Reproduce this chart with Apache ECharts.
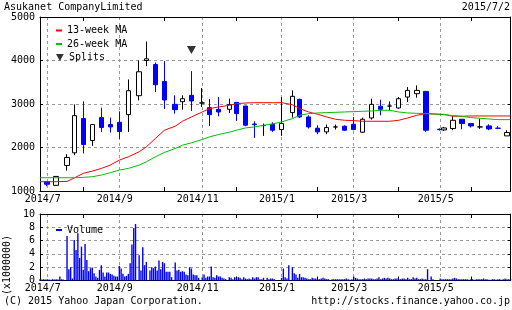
<!DOCTYPE html>
<html><head><meta charset="utf-8">
<script src="https://cdn.jsdelivr.net/npm/echarts@6/dist/echarts.min.js"></script>
<style>html,body{margin:0;padding:0;background:#fff}#c{width:512px;height:310px}</style>
</head><body><div id="c"></div>
<script>
const FONT = '"DejaVu Sans Mono", "Liberation Mono", monospace';

// ---- axis / calendar ----
const startDate = '2014-07-01';
const endDate = '2015-07-01';
const firstWeekMonday = '2014-07-07';
const holidays = ['2014-07-21','2014-09-15','2014-09-23','2014-10-13','2014-11-03','2014-11-24',
  '2014-12-23','2014-12-31','2015-01-01','2015-01-02','2015-01-12','2015-02-11',
  '2015-04-29','2015-05-04','2015-05-05','2015-05-06'];
const monthTickDates = ['2014-07-07','2014-08-04','2014-09-01','2014-10-06','2014-11-04','2014-12-01',
  '2015-01-05','2015-02-02','2015-03-02','2015-04-06','2015-05-07','2015-06-01'];
const monthTickLabels = ['2014/7','','2014/9','','2014/11','','2015/1','','2015/3','','2015/5',''];
const priceTicks = [1000, 5000, 1000];   // min, max, step
const volumeTicks = [0, 10, 2];

// ---- weekly candles (52 weeks from 2014-07-07) ----
const candleOpen  = [1210,1130,1588,1878,2664,2160,2687,2527,2580,2756,3191,4000,3909,3519,2992,3053,3199,3023,2916,2878,2878,3038,2954,2540,2504,2534,2412,2802,3107,2702,2443,2359,2473,2489,2534,2351,2679,2947,2954,2908,3160,3237,3290,2420,2405,2435,2649,2550,2473,2496,2445,2267];
const candleClose = [1155,1335,1771,2733,2069,2527,2458,2473,2367,3305,3741,4038,3443,3092,2870,3122,3069,3023,2756,2817,2985,2779,2512,2525,2504,2397,2550,3176,2702,2473,2359,2458,2473,2397,2412,2649,2992,2878,2954,3122,3313,3313,2397,2410,2450,2626,2550,2496,2473,2427,2440,2344];
const candleLow   = [1110,1125,1466,1824,1863,2038,2359,2344,2199,2359,3084,3870,3275,2886,2779,2870,2840,2931,2496,2718,2794,2611,2489,2221,2267,2359,2267,2687,2679,2435,2305,2305,2412,2381,2397,2336,2641,2740,2855,2893,3046,3145,2359,2390,2381,2397,2420,2458,2427,2397,2440,2267];
const candleHigh  = [1230,1340,1847,2992,3061,2540,2916,2687,2832,3565,4000,4435,3954,3985,3199,3199,3756,3367,3115,3160,3122,3038,2954,2603,2550,2580,3160,3313,3122,2740,2511,2527,2527,2511,2702,2687,3122,3099,3061,3160,3389,3428,3290,2440,2473,2718,2649,2565,2664,2534,2490,2397];

// ---- moving averages, one value per week ----
const ma13 = [1214,1214,1220,1300,1405,1458,1519,1595,1710,1786,1901,2015,2206,2397,2489,2603,2702,2817,2893,2931,2970,3008,3023,3030,3030,3030,3030,2985,2893,2817,2763,2702,2649,2626,2618,2603,2603,2603,2603,2626,2679,2740,2779,2763,2763,2718,2718,2725,2725,2725,2725,2725];
const ma26 = [1305,1305,1305,1305,1313,1328,1366,1420,1481,1519,1595,1672,1786,1886,1977,2053,2107,2183,2244,2298,2351,2397,2450,2473,2511,2542,2588,2664,2740,2779,2794,2802,2809,2817,2825,2832,2840,2855,2855,2817,2794,2786,2779,2763,2756,2733,2718,2687,2672,2656,2641,2641];

// ---- split ----
const splitWeeks = [16];
const splitMarkerPrice = [4240];

// ---- daily volume (x1,000,000), one per trading day from 2014-07-01 ----
const volume = [
  0.2,0.15,0.2,0.15,
  0.2,0.15,0.1,0.2,0.15,
  0.2,0.15,0.6,0.2,0.15,
  6.7,1.7,2.0,0.3,
  6.1,4.6,7.1,3.4,5.1,
  1.6,5.5,3.1,1.4,1.85,
  1.95,1.1,0.6,0.4,1.6,
  2.3,1.2,0.6,1.2,1.2,
  1.0,0.9,0.7,0.6,0.6,
  2.2,1.8,1.0,0.6,0.7,
  1.0,2.6,5.4,7.9,8.5,
  3.8,1.5,5.0,2.3,
  2.8,1.5,2.0,1.85,
  2.1,1.5,3.0,1.7,2.8,
  2.6,1.3,1.3,1.3,0.5,
  2.7,1.5,1.6,1.3,
  1.4,1.3,0.9,0.8,2.0,
  1.8,0.9,0.8,0.8,0.4,
  0.5,0.9,0.4,0.6,
  0.6,2.1,0.5,0.4,0.8,
  0.6,0.6,0.4,0.3,0.2,
  0.5,0.4,0.2,0.5,
  0.3,0.5,0.4,0.2,0.5,
  0.3,0.2,0.3,0.2,0.5,
  0.3,0.5,0.5,0.2,0.2,
  0.4,0.4,0.2,0.3,
  0.3,0.2,
  0.4,1.8,0.5,0.3,2.3,
  2.0,1.1,0.9,0.4,
  1.0,0.5,0.5,0.4,0.3,
  0.2,0.2,0.4,0.3,0.3,
  0.2,0.2,0.3,0.4,0.3,
  0.2,0.2,0.2,0.2,
  0.2,0.2,0.2,0.2,0.2,
  0.2,0.3,0.2,0.1,0.2,
  0.6,0.4,0.3,0.2,0.2,
  0.2,0.3,0.2,0.3,0.3,
  0.3,0.2,0.2,0.3,0.5,
  0.2,0.3,0.4,0.3,0.4,
  0.3,0.2,0.2,0.3,0.3,
  0.2,0.2,0.3,0.3,0.2,
  0.4,0.2,0.2,0.5,0.3,
  0.4,0.2,0.2,0.3,0.2,
  0.2,1.7,0.6,0.2,
  0.3,0.2,
  0.2,0.2,0.2,0.2,0.2,
  0.3,0.4,0.3,0.2,0.2,
  0.2,0.2,0.2,0.2,0.1,
  0.2,0.2,0.1,0.2,0.2,
  0.2,0.2,0.3,0.2,0.2,
  0.1,0.1,0.2,0.2,0.1,
  0.2,0.2,0.1,0.2,0.3,
  0.2,0.2,0.2
];

// ================= build =================
function fmt(d){ return d.toISOString().slice(0,10); }
const days = [];
for (let d = new Date(startDate + 'T00:00:00Z'); fmt(d) <= endDate; d.setUTCDate(d.getUTCDate() + 1)) {
  const wd = d.getUTCDay();
  if (wd > 0 && wd < 6) days.push(fmt(d));
}
const hol = new Set(holidays);
const dayIdx = {}; days.forEach((d, i) => dayIdx[d] = i);

// first trading day of each week
const weekSlot = [];
{
  const m0 = new Date(firstWeekMonday + 'T00:00:00Z');
  for (let i = 0; i < candleOpen.length; i++) {
    let slot = null;
    for (let j = 0; j < 5; j++) {
      const d = new Date(m0.getTime() + (i * 7 + j) * 86400000);
      const s = fmt(d);
      if (!hol.has(s) && dayIdx[s] != null) { slot = dayIdx[s]; break; }
    }
    weekSlot.push(slot);
  }
}
const candleData = candleOpen.map((o, i) => [weekSlot[i], o, candleClose[i], candleLow[i], candleHigh[i]]);
function maLine(arr) {
  const out = [[0, arr[0]]];
  arr.forEach((v, i) => out.push([weekSlot[i], v]));
  out.push([days.length - 1, arr[arr.length - 1]]);
  return out;
}
const splitData = splitWeeks.map((w, i) => [weekSlot[w], splitMarkerPrice[i]]);

const volData = days.map(() => '-');
{
  let j = 0;
  days.forEach((d, i) => { if (!hol.has(d) && j < volume.length) volData[i] = volume[j++]; });
}

const labelMap = new Map(); const tickSet = new Set();
monthTickDates.forEach((d, i) => {
  const k = dayIdx[d];
  if (monthTickLabels[i]) labelMap.set(k, monthTickLabels[i]); else tickSet.add(k);
});

const txt = { fontFamily: FONT, fontSize: 10, color: '#000' };
const dash = { color: '#999', type: [3, 3], width: 1 };

function xAxisPair(gi) {
  return [{
    type: 'category', gridIndex: gi, data: days, boundaryGap: false, position: 'bottom',
    axisLine: { show: true, onZero: false, lineStyle: { color: '#000', width: 1 } },
    axisTick: { show: true, inside: true, length: 4, interval: (i) => tickSet.has(i), lineStyle: { color: '#000' } },
    axisLabel: { show: true, interval: (i) => labelMap.has(i), formatter: (v, i) => labelMap.get(i) || '',
      ...txt, margin: 3, padding: [0, 9, 0, 0] },
    splitLine: { show: true, interval: (i) => labelMap.has(i), lineStyle: dash }
  }, {
    type: 'category', gridIndex: gi, data: days, boundaryGap: false, position: 'top',
    axisLine: { show: true, onZero: false, lineStyle: { color: '#000', width: 1 } },
    axisTick: { show: true, inside: true, length: 4, interval: (i) => tickSet.has(i), lineStyle: { color: '#000' } },
    axisLabel: { show: false }, splitLine: { show: false }
  }];
}
function yAxisPair(gi, t) {
  return [{
    type: 'value', gridIndex: gi, min: t[0], max: t[1], interval: t[2], position: 'left',
    axisLine: { show: true, lineStyle: { color: '#000' } },
    axisTick: { show: true, inside: true, length: 3, lineStyle: { color: '#000' } },
    axisLabel: { ...txt, margin: 5, formatter: (v) => String(v) },
    splitLine: { show: true, lineStyle: dash }
  }, {
    type: 'value', gridIndex: gi, min: t[0], max: t[1], interval: t[2], position: 'right',
    axisLine: { show: true, lineStyle: { color: '#000' } },
    axisTick: { show: true, inside: true, length: 3, lineStyle: { color: '#000' } },
    axisLabel: { show: false }, splitLine: { show: false }
  }];
}

const chart = echarts.init(document.getElementById('c'), null, { renderer: 'canvas' });
chart.setOption({
  animation: false,
  backgroundColor: '#fff',
  grid: [
    { left: 40, top: 17, width: 470.5, height: 174 },
    { left: 40, top: 214, width: 470.5, height: 66.5 }
  ],
  xAxis: [...xAxisPair(0), ...xAxisPair(1)],
  yAxis: [...yAxisPair(0, priceTicks), ...yAxisPair(1, volumeTicks)],
  legend: [
    { data: ['13-week MA', '26-week MA'], left: 51, top: 19.5, orient: 'vertical', icon: 'rect',
      itemWidth: 6, itemHeight: 2, itemGap: 1.5, textStyle: { ...txt, lineHeight: 12 }, selectedMode: false },
    { data: ['Splits'], left: 51, top: 46.5, orient: 'vertical', icon: 'path://M0,0L10,0L5,9Z',
      itemWidth: 8, itemHeight: 7, textStyle: { ...txt, lineHeight: 12 }, selectedMode: false },
    { data: ['Volume'], left: 51, top: 219, orient: 'vertical', icon: 'rect',
      itemWidth: 6, itemHeight: 2, textStyle: { ...txt, lineHeight: 12 }, selectedMode: false }
  ],
  series: [
    { type: 'candlestick', name: 'Price', xAxisIndex: 0, yAxisIndex: 0, data: candleData,
      encode: { x: 0, y: [1, 2, 3, 4] }, barWidth: 5,
      itemStyle: { color: '#fff', color0: '#0000ff', borderColor: '#000', borderColor0: '#0000ff',
        borderColorDoji: '#000', borderWidth: 1 } },
    { type: 'line', name: '13-week MA', xAxisIndex: 0, yAxisIndex: 0, data: maLine(ma13),
      showSymbol: false, symbol: 'none', lineStyle: { color: '#ff0000', width: 1 }, itemStyle: { color: '#ff0000' } },
    { type: 'line', name: '26-week MA', xAxisIndex: 0, yAxisIndex: 0, data: maLine(ma26),
      showSymbol: false, symbol: 'none', lineStyle: { color: '#00c000', width: 1 }, itemStyle: { color: '#00c000' } },
    { type: 'scatter', name: 'Splits', xAxisIndex: 0, yAxisIndex: 0, data: splitData,
      symbol: 'path://M0,0L10,0L5,9Z', symbolSize: [9, 8], itemStyle: { color: '#000' } },
    { type: 'bar', name: 'Volume', xAxisIndex: 2, yAxisIndex: 2, data: volData, barWidth: 1.4,
      itemStyle: { color: '#0000ff' } }
  ],
  graphic: [
    { type: 'text', left: 4, top: 2, style: { text: 'Asukanet CompanyLimited', font: '10px ' + FONT, fill: '#000' } },
    { type: 'text', right: 2, top: 2, style: { text: '2015/7/2', font: '10px ' + FONT, fill: '#000' } },
    { type: 'text', left: 4, top: 296, style: { text: '(C) 2015 Yahoo Japan Corporation.', font: '10px ' + FONT, fill: '#000' } },
    { type: 'text', right: 2, top: 296, style: { text: 'http://stocks.finance.yahoo.co.jp', font: '10px ' + FONT, fill: '#000' } },
    { type: 'text', x: 7, y: 265, rotation: Math.PI / 2,
      style: { text: '(x1000000)', font: '10px ' + FONT, fill: '#000', align: 'center', verticalAlign: 'middle' } }
  ]
});
</script></body></html>
